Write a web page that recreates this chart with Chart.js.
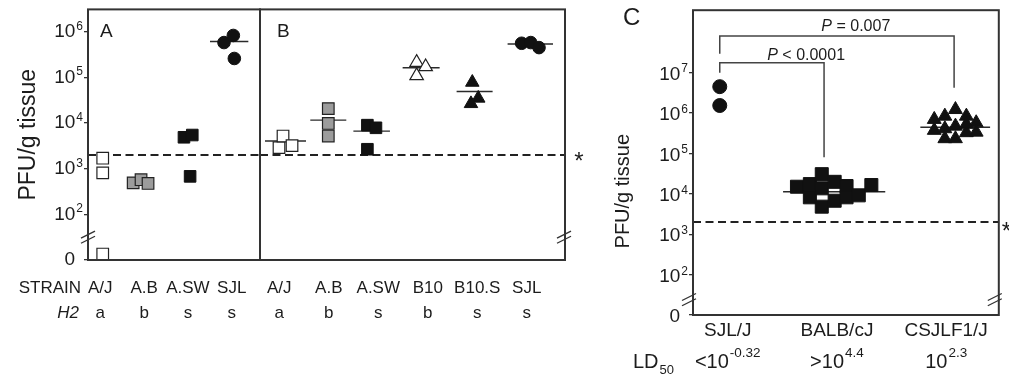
<!DOCTYPE html>
<html><head><meta charset="utf-8">
<script src="https://cdn.jsdelivr.net/npm/chart.js@4/dist/chart.umd.min.js"></script>
<style>
html,body{margin:0;padding:0;background:#fff;}
#wrap{position:relative;width:1009px;height:377px;overflow:hidden;background:#fff;}
canvas{position:absolute;left:0;top:0;}
</style></head><body>
<div id="wrap">
<canvas id="cA" width="1009" height="377"></canvas>
<canvas id="cB" width="1009" height="377"></canvas>
<canvas id="cC" width="1009" height="377"></canvas>
</div>
<script>
// ---------------- data ----------------
// Panel A
const strainsA = ['A/J', 'A.B', 'A.SW', 'SJL'];
const h2A = ['a', 'b', 's', 's'];
const pfuA = [[1700, 810, 0], [490, 575, 475], [4880, 5470, 680], [580000, 830000, 260000]];
const jitterA = [[0.055, 0.055, 0.055], [-0.25, -0.07, 0.09], [-0.09, 0.1, 0.05], [-0.176, 0.037, 0.06]];
const centreA = [null, null, null, 610000];

// Panel B
const strainsB = ['A/J', 'A.B', 'A.SW', 'B10', 'B10.S', 'SJL'];
const h2B = ['a', 'b', 's', 'b', 's', 's'];
const pfuB = [[2900, 5200, 3200], [20700, 9800, 5200], [9000, 7870, 2670], [213000, 171000, 109000], [78000, 35000, 26600], [560000, 580000, 450000]];
const jitterB = [[-0.006, 0.075, 0.257], [-0.01, -0.01, -0.01], [-0.22, -0.047, -0.22], [-0.225, -0.043, -0.225], [-0.1, 0.02, -0.127], [-0.104, 0.08, 0.248]];
const centreB = [4050, 11600, 6670, 163000, 49000, 540000];

// Panel C
const strainsC = ['SJL/J', 'BALB/cJ', 'CSJLF1/J'];
const ldPrefix = ['<10', '>10', '10'];
const ldExponent = ['-0.32', '4.4', '2.3'];
const pfuC = [
  [4450000, 1520000],
  [14900, 17300, 8150, 30500, 13600, 4790, 19700, 6710, 15500, 8150, 9120, 16400],
  [690000, 830000, 1210000, 830000, 570000, 370000, 405000, 470000, 324000, 334000, 230000, 230000, 520000]
];
const jitterC = [
  [-0.073, -0.073],
  [-0.366, -0.248, -0.248, -0.139, -0.139, -0.139, -0.021, -0.021, 0.088, 0.088, 0.2, 0.315],
  [-0.109, -0.012, 0.085, 0.185, 0.275, -0.109, -0.012, 0.085, 0.185, 0.275, -0.012, 0.085, 0.185]
];
const centreC = [null, 11200, 440000];
const pPairs = [[0, 2], [0, 1]];
const pOps = ['=', '<'];
const pVals = ['0.007', '0.0001'];

const detectionLimit = 2000;
const yTicksAB = [0, 1e2, 1e3, 1e4, 1e5, 1e6];
const yTicksC = [0, 1e2, 1e3, 1e4, 1e5, 1e6, 1e7];

// -------------- styling / helpers --------------
const FONT = '"Liberation Sans", Arial, Helvetica, sans-serif';
const INK = '#1c1c1c';
const AXIS_FLOOR = 10;     // "0" label sits on the axis floor (below the break)
const ZERO_MARK = 13.5;    // a 0 PFU sample is drawn resting on the floor
const plotValue = v => (v === 0 ? ZERO_MARK : v);
const tickValue = v => (v === 0 ? AXIS_FLOOR : v);

const STY = {
  openSq:   {ps: 'rect', r: 8.2, bg: '#ffffff', bc: '#222', bw: 1.2},
  graySq:   {ps: 'rect', r: 8.2, bg: '#9c9c9c', bc: '#222', bw: 1.2},
  blackSq:  {ps: 'rect', r: 8.2, bg: '#111', bc: '#111', bw: 1},
  openTri:  {ps: 'triangle', r: 7.8, bg: '#ffffff', bc: '#222', bw: 1.2},
  blackTri: {ps: 'triangle', r: 7.8, bg: '#111', bc: '#111', bw: 1},
  dot:      {ps: 'circle', r: 6.3, bg: '#111', bc: '#111', bw: 1},
  bigSq:    {ps: 'rect', r: 9.2, bg: '#111', bc: '#111', bw: 1},
  bigTri:   {ps: 'triangle', r: 8, bg: '#111', bc: '#111', bw: 1},
  bigDot:   {ps: 'circle', r: 7, bg: '#111', bc: '#111', bw: 1}
};
const styleA = ['openSq', 'graySq', 'blackSq', 'dot'];
const styleB = ['openSq', 'graySq', 'blackSq', 'openTri', 'blackTri', 'dot'];
const styleC = ['bigDot', 'bigSq', 'bigTri'];

function markerSets(values, jitter, keys) {
  return values.map((vals, i) => {
    const s = STY[keys[i]];
    return {
      type: 'scatter', order: 0,
      data: vals.map((v, k) => ({x: i + jitter[i][k], y: plotValue(v)})),
      pointStyle: s.ps, pointRadius: s.r, pointHoverRadius: s.r,
      pointBackgroundColor: s.bg, pointBorderColor: s.bc, pointBorderWidth: s.bw,
      backgroundColor: s.bg, borderColor: s.bc, showLine: false
    };
  });
}
function centreLines(lines, jitter, unitPx) {
  const out = [];
  lines.forEach((m, i) => {
    if (m == null) return;
    const js = jitter[i];
    const lo = Math.min(...js) - 14 / unitPx, hi = Math.max(...js) + 14 / unitPx;
    const mid = (lo + hi) / 2, half = Math.max((hi - lo) / 2, 18 / unitPx);
    out.push({type: 'line', order: 1, data: [{x: i + mid - half, y: m}, {x: i + mid + half, y: m}],
      borderColor: '#2a2a2a', borderWidth: 1.4, pointRadius: 0, fill: false, showLine: true});
  });
  return out;
}
function txt(ctx, s, x, y, size, o = {}) {
  ctx.save();
  ctx.font = `${o.italic ? 'italic ' : ''}${size}px ${FONT}`;
  ctx.fillStyle = INK;
  ctx.textAlign = o.align || 'left';
  ctx.textBaseline = o.base || 'middle';
  ctx.fillText(s, x, y);
  ctx.restore();
}
function pow(ctx, pre, exp, x, y, size, eSize, align, rise) {
  ctx.save();
  ctx.font = `${size}px ${FONT}`;
  const wb = ctx.measureText(pre).width;
  ctx.font = `${eSize}px ${FONT}`;
  const we = ctx.measureText(exp).width;
  const tot = wb + we + 1;
  const x0 = align === 'right' ? x - tot : align === 'center' ? x - tot / 2 : x;
  ctx.fillStyle = INK; ctx.textAlign = 'left';
  ctx.font = `${size}px ${FONT}`; ctx.textBaseline = 'middle'; ctx.fillText(pre, x0, y);
  ctx.font = `${eSize}px ${FONT}`; ctx.textBaseline = 'alphabetic'; ctx.fillText(exp, x0 + wb + 1, y - rise);
  ctx.restore();
}
function breakMark(ctx, x, y) {
  ctx.save(); ctx.strokeStyle = '#333'; ctx.lineWidth = 1.3;
  for (const d of [-2.6, 2.6]) { ctx.beginPath(); ctx.moveTo(x - 7, y + 3.5 + d); ctx.lineTo(x + 7, y - 3.5 + d); ctx.stroke(); }
  ctx.restore();
}
function box(ctx, a) {
  ctx.save(); ctx.strokeStyle = '#333'; ctx.lineWidth = 2;
  ctx.strokeRect(a.left, a.top, a.right - a.left, a.bottom - a.top); ctx.restore();
}
function dashed(chart) {
  const a = chart.chartArea, y = chart.scales.y.getPixelForValue(detectionLimit), ctx = chart.ctx;
  ctx.save(); ctx.strokeStyle = '#222'; ctx.lineWidth = 2; ctx.setLineDash([8, 4.5]);
  ctx.beginPath(); ctx.moveTo(a.left, y); ctx.lineTo(a.right, y); ctx.stroke(); ctx.restore();
}
function yTickLabels(chart, size, eSize, dy) {
  const s = chart.scales.y, ctx = chart.ctx, x = chart.chartArea.left - 5;
  s.ticks.forEach(t => {
    const y = s.getPixelForValue(t.value) + dy;
    if (t.value === AXIS_FLOOR) txt(ctx, '0', x - 8, y, size, {align: 'right'});
    else pow(ctx, '10', String(Math.round(Math.log10(t.value))), x, y, size, eSize, 'right', 2);
  });
}

const X_FONT = 17, X_LH = 1.45, X_PAD = 16;
function xScale(min, max, labels, size, lh, pad, height) {
  return {
    type: 'linear', position: 'bottom', min, max,
    afterBuildTicks: s => { s.ticks = labels.map((_, i) => ({value: i})); },
    afterFit: s => { s.height = height; },
    grid: {display: false, drawTicks: false}, border: {display: false},
    ticks: {autoSkip: false, maxRotation: 0, minRotation: 0, color: INK, padding: pad,
      font: {family: FONT, size, lineHeight: lh}, callback: (v, i) => labels[i]}
  };
}
function yScale(max, ticks, width, show) {
  return {
    type: 'logarithmic', min: AXIS_FLOOR, max, display: show,
    afterBuildTicks: s => { s.ticks = ticks.map(v => ({value: tickValue(v)})); },
    afterFit: s => { s.width = width; },
    ticks: {display: false},
    grid: {display: true, drawOnChartArea: false, drawTicks: true, tickLength: 4, color: '#333', lineWidth: 1.3},
    border: {display: false}
  };
}
const base = {responsive: false, animation: false, events: [],
  plugins: {legend: {display: false}, tooltip: {enabled: false}}};

// ---------------- Panel A ----------------
const AB_MAX = Math.pow(10, 6.49);
const xA = [-0.281, 3.646];
const yA = yScale(AB_MAX, yTicksAB, 88, true);
yA.title = {display: true, text: 'PFU/g tissue', color: INK, font: {family: FONT, size: 23}, padding: {top: 15, bottom: 0}};
new Chart(document.getElementById('cA'), {
  type: 'scatter',
  data: {datasets: [...markerSets(pfuA, jitterA, styleA), ...centreLines(centreA, jitterA, 172 / (xA[1] - xA[0]))]},
  options: {...base, layout: {padding: {left: 0, top: 8, right: 749, bottom: 0}},
    scales: {x: xScale(xA[0], xA[1], strainsA.map((s, i) => [s, h2A[i]]), X_FONT, X_LH, X_PAD, 117), y: yA}},
  plugins: [{id: 'pA',
    beforeDatasetsDraw: c => dashed(c),
    afterDraw(c) {
      const a = c.chartArea, ctx = c.ctx;
      box(ctx, a);
      txt(ctx, 'A', a.left + 12, a.top + 28, 19, {base: 'alphabetic'});
      yTickLabels(c, 19, 12, 0);
      const y1 = a.bottom + X_PAD + X_FONT * X_LH / 2;
      txt(ctx, 'STRAIN', a.left - 7, y1, X_FONT, {align: 'right'});
      txt(ctx, 'H2', a.left - 9, y1 + X_FONT * X_LH, X_FONT, {align: 'right', italic: true});
      breakMark(ctx, a.left, c.scales.y.getPixelForValue(Math.pow(10, 1.5)));
    }}]
});

// ---------------- Panel B ----------------
const xB = [-0.39, 5.773];
new Chart(document.getElementById('cB'), {
  type: 'scatter',
  data: {datasets: [...markerSets(pfuB, jitterB, styleB), ...centreLines(centreB, jitterB, 305 / (xB[1] - xB[0]))]},
  options: {...base, layout: {padding: {left: 260, top: 8, right: 444, bottom: 0}},
    scales: {x: xScale(xB[0], xB[1], strainsB.map((s, i) => [s, h2B[i]]), X_FONT, X_LH, X_PAD, 117),
      y: yScale(AB_MAX, yTicksAB, 0, false)}},
  plugins: [{id: 'pB',
    beforeDatasetsDraw: c => dashed(c),
    afterDraw(c) {
      const a = c.chartArea, ctx = c.ctx;
      box(ctx, a);
      txt(ctx, 'B', a.left + 17, a.top + 28, 19, {base: 'alphabetic'});
      txt(ctx, '*', a.right + 14, c.scales.y.getPixelForValue(detectionLimit) + 14, 24, {align: 'center', base: 'alphabetic'});
      breakMark(ctx, a.right - 1, c.scales.y.getPixelForValue(Math.pow(10, 1.5)));
    }}]
});

// ---------------- Panel C ----------------
const xC = [-0.318, 2.482];
const C_MAX = Math.pow(10, 8.54);
const C_FONT = 19;
const bracketGeom = [
  {xa: -0.073, xb: 0.0727, top: 7.903, legA: 7.46, legB: 6.624, tx: 1.173, ty: 8.03},
  {xa: -0.073, xb: -0.118, top: 7.239, legA: 6.993, legB: 4.902, tx: 0.718, ty: 7.31}
];
new Chart(document.getElementById('cC'), {
  type: 'scatter',
  data: {datasets: [...markerSets(pfuC, jitterC, styleC), ...centreLines(centreC, jitterC, 308 / (xC[1] - xC[0]))]},
  options: {...base, layout: {padding: {left: 0, top: 9, right: 8, bottom: 0}},
    scales: {x: xScale(xC[0], xC[1], strainsC, C_FONT, 1.2, 4, 62), y: yScale(C_MAX, yTicksC, 693, true)}},
  plugins: [{id: 'pC',
    beforeDatasetsDraw: c => dashed(c),
    afterDraw(c) {
      const a = c.chartArea, ctx = c.ctx, xs = c.scales.x, ys = c.scales.y;
      box(ctx, a);
      txt(ctx, 'C', a.left - 70, a.top + 15, 24, {base: 'alphabetic'});
      yTickLabels(c, 19, 12, 2);
      // y title
      ctx.save(); ctx.translate(a.left - 70, a.top + 181); ctx.rotate(-Math.PI / 2);
      txt(ctx, 'PFU/g tissue', 0, 0, 20, {align: 'center'}); ctx.restore();
      // LD50 row
      const yl = a.bottom + 47;
      txt(ctx, 'LD', a.left - 60, yl, 20);
      ctx.save(); ctx.font = `20px ${FONT}`; const wLD = ctx.measureText('LD').width; ctx.restore();
      txt(ctx, '50', a.left - 60 + wLD + 1, yl + 12, 13, {base: 'alphabetic'});
      ldPrefix.forEach((p, i) => pow(ctx, p, ldExponent[i], xs.getPixelForValue(i), yl, 20, 13.5, 'center', 5));
      // brackets + P values
      ctx.save(); ctx.strokeStyle = '#444'; ctx.lineWidth = 1.5;
      pPairs.forEach(([ia, ib], k) => {
        const g = bracketGeom[k];
        const xa = xs.getPixelForValue(ia + g.xa), xb = xs.getPixelForValue(ib + g.xb);
        const yt = ys.getPixelForValue(Math.pow(10, g.top));
        ctx.beginPath();
        ctx.moveTo(xa, ys.getPixelForValue(Math.pow(10, g.legA)));
        ctx.lineTo(xa, yt); ctx.lineTo(xb, yt);
        ctx.lineTo(xb, ys.getPixelForValue(Math.pow(10, g.legB)));
        ctx.stroke();
        const cx = xs.getPixelForValue(g.tx), cy = ys.getPixelForValue(Math.pow(10, g.ty));
        ctx.font = `italic 16px ${FONT}`; const wP = ctx.measureText('P').width;
        const rest = ' ' + pOps[k] + ' ' + pVals[k];
        ctx.font = `16px ${FONT}`; const wR = ctx.measureText(rest).width;
        const x0 = cx - (wP + wR) / 2;
        txt(ctx, 'P', x0, cy, 16, {italic: true, base: 'alphabetic'});
        txt(ctx, rest, x0 + wP, cy, 16, {base: 'alphabetic'});
      });
      ctx.restore();
      txt(ctx, '*', a.right + 3, ys.getPixelForValue(detectionLimit) + 17, 24, {base: 'alphabetic'});
      const yb = ys.getPixelForValue(Math.pow(10, 1.38));
      breakMark(ctx, a.left - 4, yb);
      breakMark(ctx, a.right - 4, yb);
    }}]
});
</script></body></html>
